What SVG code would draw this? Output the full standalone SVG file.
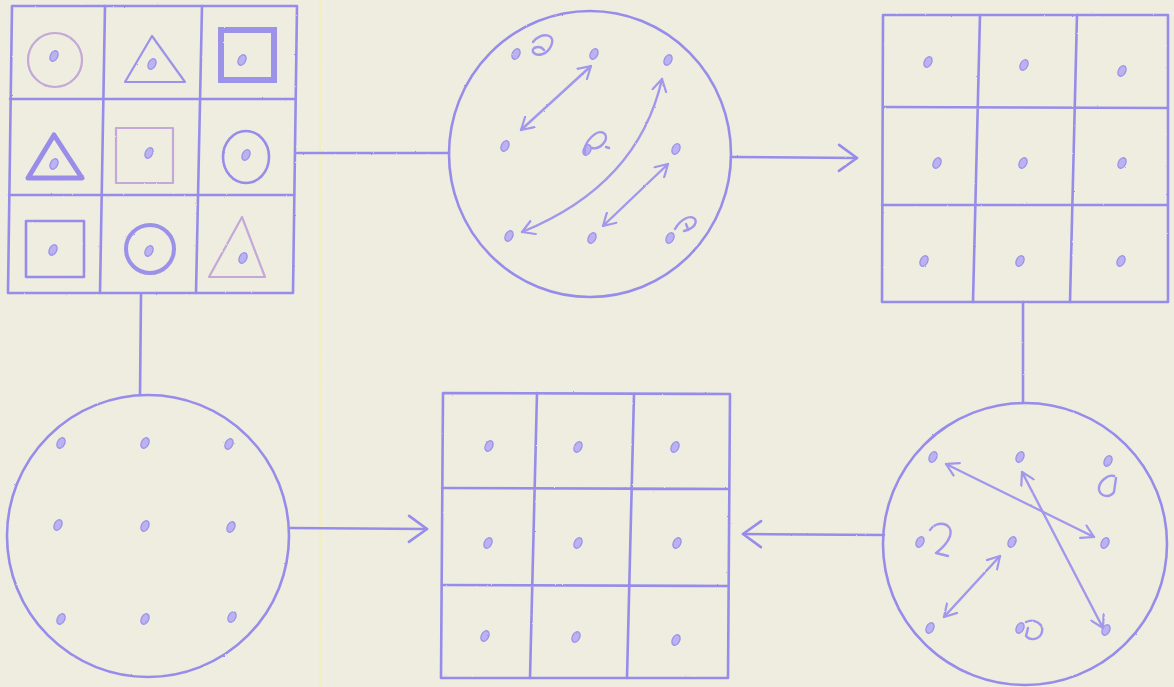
<svg xmlns="http://www.w3.org/2000/svg" xmlns:xlink="http://www.w3.org/1999/xlink" width="1174" height="687" viewBox="0 0 1174 687">
<style>
.ln{fill:none;stroke:#978ce9;stroke-width:2.6;stroke-linecap:round;stroke-linejoin:round}
.th{fill:none;stroke:#9d92ea;stroke-width:2.2;stroke-linecap:round;stroke-linejoin:round}
.pk{fill:none;stroke:#c4a8d8;stroke-width:2.2;stroke-linecap:round;stroke-linejoin:round}
.ar{fill:none;stroke:#a197ec;stroke-width:2.4;stroke-linecap:round}
.cu{fill:none;stroke:#a197ec;stroke-width:2.4;stroke-linecap:round;stroke-linejoin:round}
</style>
<defs>
<filter id="rough" x="-5%" y="-5%" width="110%" height="110%">
<feTurbulence type="fractalNoise" baseFrequency="0.9" numOctaves="2" seed="3" result="n"/>
<feDisplacementMap in="SourceGraphic" in2="n" scale="1.6"/>
</filter>
<filter id="paper">
<feTurbulence type="fractalNoise" baseFrequency="0.6" numOctaves="2" seed="7" result="t"/>
<feColorMatrix in="t" type="matrix" values="0 0 0 0 0.6  0 0 0 0 0.6  0 0 0 0 0.5  0 0 0 0.06 0"/>
<feComposite operator="over" in2="SourceGraphic"/>
</filter>
<g id="dot"><ellipse cx="0" cy="0" rx="3.6" ry="5.6" transform="rotate(28)" fill="#bbb2f1" stroke="#9c91e9" stroke-width="1.3"/></g>
<marker id="chev" viewBox="0 0 22 30" refX="20" refY="15" markerWidth="22" markerHeight="30" orient="auto" markerUnits="userSpaceOnUse">
<path d="M2,2 L20,15 L2,28" fill="none" stroke="#978ce9" stroke-width="2.6" stroke-linecap="round" stroke-linejoin="round"/>
</marker>
<marker id="sm" viewBox="0 0 14 16" refX="13" refY="8" markerWidth="14" markerHeight="16" orient="auto-start-reverse" markerUnits="userSpaceOnUse">
<path d="M1,1 L13,8 L1,15" fill="none" stroke="#a197ec" stroke-width="2.2" stroke-linecap="round" stroke-linejoin="round"/>
</marker>
</defs>
<rect width="1174" height="687" fill="#efeee1" filter="url(#paper)"/>
<line x1="320" y1="0" x2="320" y2="687" stroke="#f3f1a6" stroke-width="1.5" opacity="0.8"/>

<g filter="url(#rough)">
<g id="connectors">
<line class="ln" x1="297" y1="153" x2="449" y2="153"/>
<line class="ln" x1="731" y1="157" x2="857" y2="158" marker-end="url(#chev)"/>
<line class="ln" x1="141" y1="294" x2="140" y2="395"/>
<line class="ln" x1="290" y1="528" x2="427" y2="529" marker-end="url(#chev)"/>
<line class="ln" x1="1023" y1="302" x2="1023" y2="403"/>
<line class="ln" x1="884" y1="535" x2="743" y2="534" marker-end="url(#chev)"/>
</g>

<g id="shapes-grid">
<path class="ln" d="M12,6 L297,6 L293,293 L8,293 Z"/>
<path class="ln" d="M105,6 L100,293 M202,6 L196,293 M10,99 L295,99 M9,195 L294,195"/>
<circle class="pk" cx="55" cy="60" r="27"/>
<use href="#dot" x="54" y="56"/>
<polygon class="th" points="125,82 152,36 185,82"/>
<use href="#dot" x="152" y="64"/>
<rect x="221" y="30" width="53" height="50" fill="none" stroke="#9d92ea" stroke-width="6"/>
<use href="#dot" x="242" y="60"/>
<polygon points="28,178 54,135 82,178" fill="none" stroke="#998de8" stroke-width="5" stroke-linejoin="round"/>
<use href="#dot" x="54" y="164"/>
<rect class="pk" x="116" y="128" width="57" height="55"/>
<use href="#dot" x="149" y="153"/>
<ellipse class="ln" cx="246" cy="157" rx="23" ry="26"/>
<use href="#dot" x="246" y="155"/>
<rect class="ln" x="26" y="221" width="58" height="56"/>
<use href="#dot" x="53" y="250"/>
<circle cx="150" cy="249" r="24" fill="none" stroke="#9c91e9" stroke-width="4"/>
<use href="#dot" x="149" y="251"/>
<polygon class="pk" points="209,277 242,217 265,277"/>
<use href="#dot" x="243" y="258"/>
</g>

<g id="circle-top">
<ellipse class="ln" cx="590" cy="154" rx="141" ry="143"/>
<use href="#dot" x="516" y="54"/>
<use href="#dot" x="594" y="54"/>
<use href="#dot" x="668" y="60"/>
<use href="#dot" x="505" y="146"/>
<use href="#dot" x="587" y="150"/>
<use href="#dot" x="676" y="149"/>
<use href="#dot" x="509" y="236"/>
<use href="#dot" x="592" y="238"/>
<use href="#dot" x="670" y="238"/>
<path class="cu" d="M533,42 C540,32 557,33 551,46 C547,55 537,57 533,52 C531,47 540,45 544,50"/>
<path class="cu" d="M585,153 C583,142 598,127 605,134 C609,141 599,150 592,148 M606,147 L609,148"/>
<path class="cu" d="M675,229 C680,220 690,214 695,219 C698,225 690,230 684,231 M686,224 L688,229"/>
<line class="ar" x1="521" y1="130" x2="591" y2="66" marker-start="url(#sm)" marker-end="url(#sm)"/>
<path class="ar" d="M522,232 Q638,185 662,79" marker-start="url(#sm)" marker-end="url(#sm)"/>
<line class="ar" x1="603" y1="226" x2="668" y2="164" marker-start="url(#sm)" marker-end="url(#sm)"/>
</g>

<g id="grid-top-right">
<path class="ln" d="M883,15 L1168,15 L1168,302 L882,302 Z"/>
<path class="ln" d="M980,15 L973,302 M1077,15 L1070,302 M883,107 L1168,108 M882,205 L1168,205"/>
<use href="#dot" x="928" y="62"/>
<use href="#dot" x="1024" y="65"/>
<use href="#dot" x="1122" y="71"/>
<use href="#dot" x="937" y="163"/>
<use href="#dot" x="1023" y="163"/>
<use href="#dot" x="1122" y="163"/>
<use href="#dot" x="924" y="261"/>
<use href="#dot" x="1020" y="261"/>
<use href="#dot" x="1121" y="261"/>
</g>

<g id="circle-bottom-right">
<ellipse class="ln" cx="1025" cy="544" rx="142" ry="141"/>
<use href="#dot" x="933" y="457"/>
<use href="#dot" x="1020" y="457"/>
<use href="#dot" x="1108" y="461"/>
<use href="#dot" x="920" y="542"/>
<use href="#dot" x="1012" y="542"/>
<use href="#dot" x="1105" y="543"/>
<use href="#dot" x="930" y="628"/>
<use href="#dot" x="1020" y="628"/>
<use href="#dot" x="1106" y="630"/>
<path class="cu" d="M1114,476 C1108,474 1098,482 1099,490 C1101,497 1110,498 1114,492 L1116,478"/>
<path class="cu" d="M930,530 C936,520 954,522 950,536 C947,545 940,550 936,553 L948,556"/>
<path class="cu" d="M1026,622 C1034,618 1044,624 1042,632 C1040,640 1030,641 1026,636 L1028,628"/>
<line class="ar" x1="946" y1="464" x2="1094" y2="537" marker-start="url(#sm)" marker-end="url(#sm)"/>
<line class="ar" x1="1022" y1="472" x2="1103" y2="628" marker-start="url(#sm)" marker-end="url(#sm)"/>
<line class="ar" x1="1000" y1="556" x2="944" y2="617" marker-start="url(#sm)" marker-end="url(#sm)"/>
</g>

<g id="grid-bottom">
<path class="ln" d="M443,393 L730,394 L728,678 L441,678 Z"/>
<path class="ln" d="M537,393 L530,678 M634,394 L627,678 M442,488 L729,489 M442,585 L728,586"/>
<use href="#dot" x="489" y="446"/>
<use href="#dot" x="578" y="447"/>
<use href="#dot" x="675" y="447"/>
<use href="#dot" x="488" y="543"/>
<use href="#dot" x="578" y="543"/>
<use href="#dot" x="677" y="543"/>
<use href="#dot" x="485" y="636"/>
<use href="#dot" x="576" y="637"/>
<use href="#dot" x="676" y="640"/>
</g>

<g id="circle-bottom-left">
<ellipse class="ln" cx="148" cy="536" rx="141" ry="141"/>
<use href="#dot" x="61" y="443"/>
<use href="#dot" x="145" y="443"/>
<use href="#dot" x="229" y="444"/>
<use href="#dot" x="58" y="525"/>
<use href="#dot" x="145" y="526"/>
<use href="#dot" x="231" y="527"/>
<use href="#dot" x="61" y="619"/>
<use href="#dot" x="145" y="619"/>
<use href="#dot" x="232" y="617"/>
</g>
</g>
</svg>
